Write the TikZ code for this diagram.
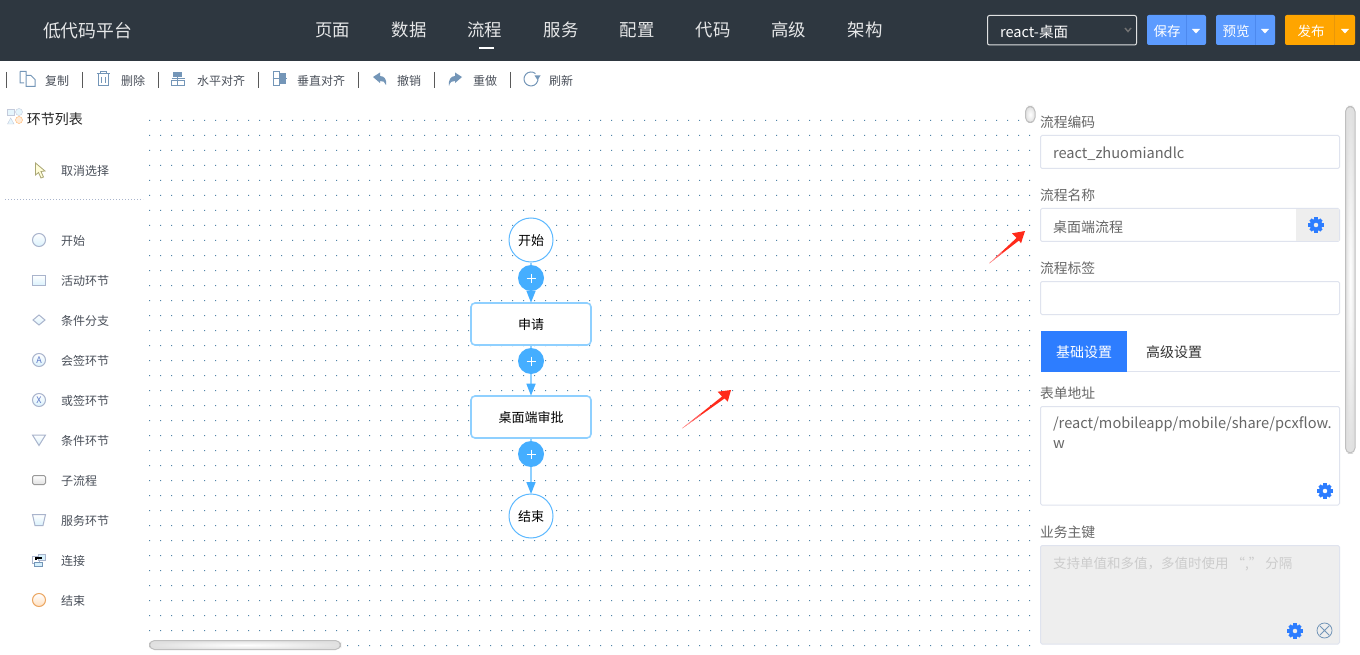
\documentclass[tikz,border=0pt]{standalone}
\usepackage{fontspec}
\setmainfont{Noto Sans CJK SC}
\usetikzlibrary{arrows.meta,calc}
\definecolor{barbg}{HTML}{2E3740}
\definecolor{btnblue}{HTML}{5C9BFF}
\definecolor{btnline}{HTML}{4D89EE}
\definecolor{btnorange}{HTML}{FFA500}
\definecolor{orangeline}{HTML}{E8970A}
\definecolor{fieldline}{HTML}{DFE3EE}
\definecolor{tabblue}{HTML}{2D7DFF}
\definecolor{flowline}{HTML}{8FD0FF}
\definecolor{flowcirc}{HTML}{5DB9FF}
\definecolor{plusblue}{HTML}{45AEFF}
\definecolor{griddot}{HTML}{4F84A8}
\definecolor{iconline}{HTML}{A9B4CC}
\definecolor{iconfill}{HTML}{D6F0FC}
\definecolor{tooltxt}{HTML}{4A505A}
\definecolor{toolicon}{HTML}{7496B8}
\definecolor{fieldtxt}{HTML}{666666}
\definecolor{disabled}{HTML}{EEEEEE}
\definecolor{arrowred}{HTML}{FF2A1A}
\tikzset{
  lbl/.style={inner sep=0pt,outer sep=0pt,anchor=west,yshift=-.7pt},
  menuitem/.style={inner sep=0pt,font=\fontsize{17.4}{18}\selectfont,text=white!88!barbg},
  toolitem/.style={lbl,font=\fontsize{12}{14}\selectfont,text=tooltxt},
  sideitem/.style={lbl,font=\fontsize{12}{14}\selectfont,text=tooltxt},
  fieldtext/.style={lbl,font=\fontsize{14.6}{16}\selectfont,text=fieldtxt},
  fieldcap/.style={lbl,font=\fontsize{13.8}{16}\selectfont,text=fieldtxt},
  inbox/.style={draw=fieldline,line width=1pt,rounded corners=1.5pt,fill=white},
  btnlabel/.style={inner sep=0pt,font=\fontsize{13.5}{16}\selectfont,text=white,yshift=-.5pt},
  circnode/.style={circle,draw=flowcirc,line width=1pt,fill=white,minimum size=44pt,inner sep=0pt,text depth=0pt,font=\fontsize{13}{15}\selectfont},
  actnode/.style={rectangle,rounded corners=4pt,draw=flowline,line width=1.6pt,fill=white,minimum width=120pt,minimum height=42pt,inner sep=0pt,text depth=0pt,font=\fontsize{13}{15}\selectfont},
  plusnode/.style={circle,fill=plusblue,minimum size=26pt,inner sep=0pt},
  plusline/.style={draw=white,line width=.9pt},
  flowedge/.style={draw=flowline,line width=1.5pt,-{Triangle[length=12pt,width=9pt,fill=plusblue,color=plusblue]},shorten >=-0.5pt},
  ticon/.style={draw=toolicon,line width=1pt,fill=none},
  tdiv/.style={draw=black!65,line width=1pt},
  sicon/.style={draw=iconline,line width=1pt,top color=white,bottom color=iconfill!90!white},
  sbar/.style={draw=black!25,line width=1pt,rounded corners=5pt,inner color=white,outer color=black!12},
}
\newcommand{\gearicon}[2]{%
  \foreach \a in {0,45,...,315}{\fill[tabblue] (#1,#2) ++(\a:5.2pt) ++(\a+90:1.7pt) -- ++(\a:2.5pt) -- ++(\a-90:3.4pt) -- ++(\a+180:2.5pt) -- cycle;}
  \fill[tabblue,even odd rule] (#1,#2) circle[radius=6.2pt] (#1,#2) circle[radius=2.4pt];}
% tail, inner shoulder, outer corner, tip, outer corner, inner shoulder
\newcommand{\redarrow}[6]{%
  \fill[arrowred] (#1) -- (#2) -- (#3) -- (#4) -- (#5) -- (#6) -- cycle;
  \fill[red!60!white] (#1) -- ($(#1)!.45!(#2)$) -- ($(#1)!.45!(#6)$) -- cycle;
  \fill[red!30!white] (#1) -- ($(#1)!.22!(#2)$) -- ($(#1)!.22!(#6)$) -- cycle;}
\begin{document}
\begin{tikzpicture}[x=1pt,y=-1pt]
\useasboundingbox (0,0) rectangle (1360,655);
\fill[white] (0,0) rectangle (1360,655);
% grid
\fill[griddot] \foreach \i in {0,...,80}{\foreach \j in {0,...,35}{ (149+\i*11,120+\j*15) rectangle ++(1,1) }};
% top bar
\fill[barbg] (0,0) rectangle (1360,61);
\node[lbl,font=\fontsize{17.8}{20}\selectfont,text=white!88!barbg] (logo) at (43,30) {低代码平台};
\node[menuitem] (m1) at (332.5,30) {页面};
\node[menuitem] (m2) at (409,30) {数据};
\node[menuitem] (m3) at (484.5,30) {流程};
\node[menuitem] (m4) at (561,30) {服务};
\node[menuitem] (m5) at (637,30) {配置};
\node[menuitem] (m6) at (713,30) {代码};
\node[menuitem] (m7) at (788.5,30) {高级};
\node[menuitem] (m8) at (865,30) {架构};
\fill[white] (479,47) rectangle (494,49);
% selector
\draw[draw=white!85!barbg,line width=1pt,rounded corners=2pt] (987.5,15.5) rectangle (1136.5,45);
\node[lbl,font=\fontsize{14.6}{16}\selectfont,text=white] (sel) at (1000,31) {react-桌面};
\draw[black!55,line width=1.4pt] (1125,28) -- (1128,31.5) -- (1131,28);
% buttons
\fill[btnblue,rounded corners=2pt] (1147,15) rectangle (1206,45);
\draw[btnline,line width=1pt] (1186,15) -- (1186,45);
\node[btnlabel] (b1) at (1167,31) {保存};
\fill[white] (1192,29) -- (1200,29) -- (1196,33.5) -- cycle;
\fill[btnblue,rounded corners=2pt] (1216,15) rectangle (1275,45);
\draw[btnline,line width=1pt] (1255,15) -- (1255,45);
\node[btnlabel] (b2) at (1236,31) {预览};
\fill[white] (1261,29) -- (1269,29) -- (1265,33.5) -- cycle;
\fill[btnorange,rounded corners=2pt] (1285,15) rectangle (1355,45);
\draw[orangeline,line width=1pt] (1334.5,15) -- (1334.5,45);
\node[btnlabel] (b3) at (1311,31) {发布};
\fill[white] (1341,29) -- (1349,29) -- (1345,33.5) -- cycle;
% toolbar dividers
\foreach \x in {6.5,82.5,158.5,258.5,358.5,434.5,510.5}{\draw[tdiv] (\x,72) -- (\x,88);}
\node[toolitem] (t1) at (45,80) {复制};
\node[toolitem] (t2) at (121,80) {删除};
\node[toolitem] (t3) at (197,80) {水平对齐};
\node[toolitem] (t4) at (297,80) {垂直对齐};
\node[toolitem] (t5) at (397,80) {撤销};
\node[toolitem] (t6) at (473,80) {重做};
\node[toolitem] (t7) at (549,80) {刷新};
% toolbar icons
\draw[ticon] (20,71.5) -- (26,71.5) -- (26,75) (20,71.5) -- (20,83) -- (24,83) (26,75.5) -- (31,75.5) -- (35,79.5) -- (35,86.5) -- (26,86.5) -- (26,75.5);
\draw[ticon] (96.5,73.5) -- (110,73.5) (100,73) -- (100,71.5) -- (106.5,71.5) -- (106.5,73) (98,74) -- (98,86) -- (108.5,86) -- (108.5,74) (101.5,77) -- (101.5,83) (105,77) -- (105,83);
\fill[toolicon] (173,72) rectangle (182,77);
\draw[ticon] (171.5,78.5) -- (184.5,78.5) (177.5,72) -- (177.5,85.5) (171.5,81) rectangle (184.5,85.5);
\fill[toolicon] (280,73) rectangle (286,84);
\draw[ticon] (272.5,78.5) -- (286.5,78.5) (273.5,72) rectangle (279.5,86);
\fill[toolicon] (373,77) -- (380,72.5) -- (380,76) .. controls (384,76) and (387,79) .. (386,85) .. controls (385,82) and (383,80.5) .. (380,81) -- (380,83) -- cycle;
\fill[toolicon] (462,77) -- (455,72.5) -- (455,76) .. controls (451,76) and (448,80) .. (449,86) .. controls (450,82) and (452,80.5) .. (455,81) -- (455,83) -- cycle;
\draw[ticon] (535.5,73.6) arc[start angle=50,end angle=370,radius=7pt];
\fill[toolicon] (534.5,75.5) -- (540.5,75.5) -- (537.5,80) -- cycle;
% left list
\draw[iconline!70,fill=iconfill!60!white] (7.5,109.5) rectangle (14,115);
\draw[iconline!70,fill=iconfill!60!white] (19,112) circle[radius=3.5pt];
\draw[iconline!70,fill=iconfill!60!white] (7.5,124) -- (14,124) -- (10.7,118) -- cycle;
\draw[orange!60,fill=orange!15] (19,120) circle[radius=3.5pt];
\node[lbl,font=\fontsize{14}{16}\selectfont,text=black!85] (lhead) at (27,119) {环节列表};
\draw[fill=yellow!15!white,draw=black!55!yellow!70,line width=.8pt] (35.5,163) -- (35.5,175) -- (38.5,172.5) -- (41,178) -- (43.5,177) -- (41,171.5) -- (45,171) -- cycle;
\node[sideitem] (cancel) at (61,170.5) {取消选择};
\draw[iconline,line width=1pt,dotted] (5,199.5) -- (143,199.5);
\foreach \n/\y/\txt in {a/240/开始,b/280/活动环节,c/320/条件分支,d/360/会签环节,e/400/或签环节,f/440/条件环节,g/480/子流程,h/520/服务环节,i/560/连接,j/600/结束}{
  \node[sideitem] (item\n) at (61,\y) {\txt};
}
\shade[sicon] (39,240) circle[radius=6.5pt];
\shade[sicon] (32.5,275.5) rectangle (45.5,285.5);
\shade[sicon] (33,320) -- (39,315) -- (45,320) -- (39,325) -- cycle;
\shade[sicon] (39,360) circle[radius=6.5pt];
\node[inner sep=0pt,text=toolicon!80!blue,font=\fontsize{9}{9}\selectfont] (ica) at (39,360) {A};
\shade[sicon] (39,400) circle[radius=6.5pt];
\node[inner sep=0pt,text=toolicon!80!blue,font=\fontsize{9}{9}\selectfont] (icx) at (39,400) {X};
\shade[sicon] (32.5,435) -- (45.5,435) -- (39,445.5) -- cycle;
\shade[draw=black!40,line width=1pt,rounded corners=1.5pt,top color=white,bottom color=black!12] (32.5,475.5) rectangle (45.5,484.5);
\shade[sicon] (32.5,514.5) -- (45.5,514.5) -- (43,525.5) -- (35,525.5) -- cycle;
\draw[iconline,fill=white] (32.5,556) rectangle (39,563);
\draw[iconline,fill=iconfill] (38,554) rectangle (45,560);
\draw[toolicon,fill=iconfill] (34.5,562) rectangle (42,566.5);
\draw[black,line width=1.1pt] (36,560) -- (36,558) -- (42,558);
\shade[draw=orange!55!brown!70,line width=1pt,top color=white,bottom color=orange!25] (39,600) circle[radius=6.5pt];
% flow
\node[circnode] (start) at (531,240) {开始};
\node[actnode] (apply) at (531,324) {申请};
\node[actnode] (desk) at (531,417) {桌面端审批};
\node[circnode] (finish) at (531,516) {结束};
\draw[flowedge] (start) -- (apply);
\draw[flowedge] (apply) -- (desk);
\draw[flowedge] (desk) -- (finish);
\node[plusnode] (p1) at (531,278) {};
\node[plusnode] (p2) at (531,361) {};
\node[plusnode] (p3) at (531,454) {};
\foreach \p in {p1,p2,p3}{
  \draw[plusline] ($(\p)+(-4.5,0)$) -- ($(\p)+(4.5,0)$);
  \draw[plusline] ($(\p)+(0,-4.5)$) -- ($(\p)+(0,4.5)$);
}
% red arrows
\redarrow{682.3,428.3}{722,396.5}{717.7,391.7}{731,390}{727.7,401.7}{724.5,398.5}
\redarrow{989.3,263.3}{1016.5,238}{1012,233.3}{1025,231}{1021,243.3}{1019,240.5}
% scrollbars
\shade[sbar] (1025.5,106.5) rectangle (1035,122.5);
\shade[sbar] (1345.5,106.5) rectangle (1355,453);
\shade[sbar] (149.5,640.5) rectangle (340.5,649.5);
% right panel
\node[fieldcap] (c1) at (1040,122) {流程编码};
\draw[inbox] (1040.5,135.5) rectangle (1339.5,168.5);
\node[fieldtext] (f1) at (1053,153) {react\_zhuomiandlc};
\node[fieldcap] (c2) at (1040,195) {流程名称};
\draw[inbox] (1040.5,208.5) rectangle (1339.5,241.5);
\fill[disabled] (1296,209) rectangle (1339,241);
\node[fieldtext,font=\fontsize{14}{16}\selectfont] (f2) at (1053,226) {桌面端流程};
\gearicon{1316}{225}
\node[fieldcap] (c3) at (1040,268) {流程标签};
\draw[inbox] (1040.5,281.5) rectangle (1339.5,314.5);
\fill[tabblue] (1040.5,330.5) rectangle (1127,371.5);
\draw[fieldline,line width=1pt] (1127,371.5) -- (1340,371.5);
\node[btnlabel,font=\fontsize{14}{16}\selectfont] (tab1) at (1084,352) {基础设置};
\node[inner sep=0pt,yshift=-.5pt,font=\fontsize{14}{16}\selectfont,text=black!80] (tab2) at (1174,352) {高级设置};
\node[fieldcap] (c4) at (1040,393) {表单地址};
\draw[inbox] (1040.5,406.5) rectangle (1339.5,505);
\node[fieldtext] (f3) at (1053,423.5) {/react/mobileapp/mobile/share/pcxflow.};
\node[fieldtext] (f4) at (1053,444) {w};
\gearicon{1325}{491}
\node[fieldcap] (c5) at (1040,532) {业务主键};
\draw[inbox,fill=disabled] (1040.5,545.5) rectangle (1339.5,644);
\node[lbl,font=\fontsize{13.5}{16}\selectfont,text=black!20] (ph) at (1053,563) {支持单值和多值，多值时使用 “,” 分隔};
\gearicon{1295}{631}
\draw[toolicon,line width=.8pt] (1324.5,630.5) circle[radius=7.5pt] (1320,626) -- (1329,635) (1329,626) -- (1320,635);
\end{tikzpicture}
\end{document}
